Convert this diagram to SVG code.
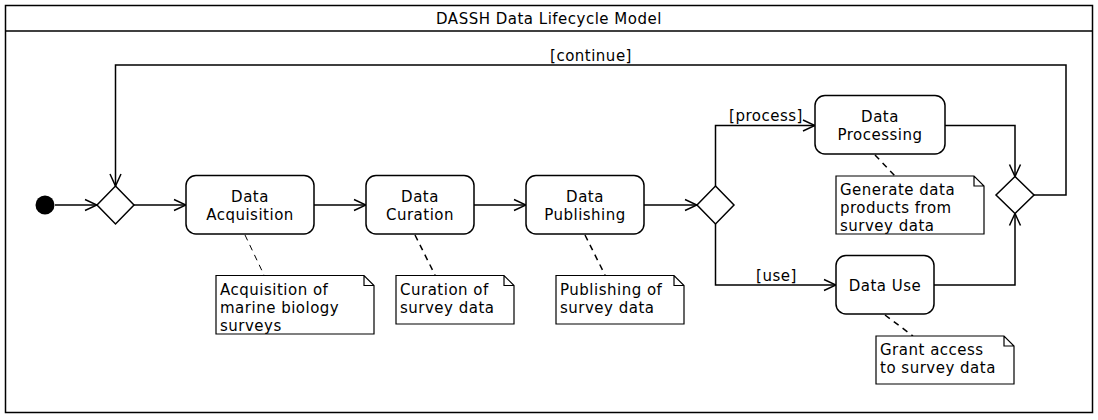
<svg xmlns="http://www.w3.org/2000/svg" width="1098" height="420" viewBox="0 0 1098 420">
<defs>
<style>
text{font-family:"DejaVu Sans","Noto Sans",sans-serif;font-size:15px;fill:#000;letter-spacing:0.5px}
.act{fill:#fff;stroke:#000;stroke-width:1.5}
.dia{fill:#fff;stroke:#000;stroke-width:1.5}
.note{fill:#fff;stroke:#000;stroke-width:1.2}
.edge{fill:none;stroke:#000;stroke-width:1.5}
.dash{fill:none;stroke:#000;stroke-width:1.5;stroke-dasharray:6,5}
.c{text-anchor:middle}
</style>
<marker id="arr" viewBox="0 0 14 14" refX="13" refY="7" markerWidth="14" markerHeight="14" markerUnits="userSpaceOnUse" orient="auto">
<path d="M1,1.5 L13,7 L1,12.5" fill="none" stroke="#000" stroke-width="1.5"/>
</marker>
</defs>
<rect width="1098" height="420" fill="#fff"/>
<g id="frame">
<rect x="5.5" y="5.5" width="1087" height="407" fill="none" stroke="#000" stroke-width="1.5"/>
<line x1="5.5" y1="31" x2="1092.5" y2="31" stroke="#000" stroke-width="1.5"/>
<text x="549" y="24" class="c">DASSH Data Lifecycle Model</text>
</g>
<g id="connectors">
<line class="edge" x1="55" y1="205" x2="97" y2="205" marker-end="url(#arr)"/>
<line class="edge" x1="134" y1="205" x2="186" y2="205" marker-end="url(#arr)"/>
<line class="edge" x1="314" y1="205" x2="366" y2="205" marker-end="url(#arr)"/>
<line class="edge" x1="474" y1="205" x2="526" y2="205" marker-end="url(#arr)"/>
<line class="edge" x1="644" y1="205" x2="697" y2="205" marker-end="url(#arr)"/>
<path class="edge" d="M715.5,186 V125.5 H815" marker-end="url(#arr)"/>
<path class="edge" d="M715.5,224 V285 H836" marker-end="url(#arr)"/>
<path class="edge" d="M945,125.5 H1015 V176.5" marker-end="url(#arr)"/>
<path class="edge" d="M934,285 H1015 V213.5" marker-end="url(#arr)"/>
<path class="edge" d="M1034,195 H1066 V65 H115.5 V186" marker-end="url(#arr)"/>
<text x="591" y="61" class="c">[continue]</text>
<text x="766" y="121" class="c">[process]</text>
<text x="776.5" y="281" class="c">[use]</text>
<line class="dash" x1="245" y1="235" x2="264" y2="275" style="stroke-width:1"/>
<line class="dash" x1="415" y1="235" x2="435" y2="275"/>
<line class="dash" x1="585" y1="235" x2="605" y2="275"/>
<line class="dash" x1="875" y1="155" x2="895" y2="176"/>
<line class="dash" x1="885" y1="315" x2="913" y2="336"/>
</g>
<g id="start"><circle cx="45" cy="205" r="9.5" fill="#000"/></g>
<g id="merge1"><path class="dia" d="M115.5,186 L134,205 L115.5,224 L97,205 Z"/></g>
<g id="acquisition">
<rect class="act" x="186" y="175.5" width="128" height="58.5" rx="10"/>
<text x="250" y="202" class="c">Data</text>
<text x="250" y="220" class="c">Acquisition</text>
</g>
<g id="curation">
<rect class="act" x="366" y="175.5" width="108" height="58.5" rx="10"/>
<text x="420" y="202" class="c">Data</text>
<text x="420" y="220" class="c">Curation</text>
</g>
<g id="publishing">
<rect class="act" x="526" y="175.5" width="118" height="58.5" rx="10"/>
<text x="585" y="202" class="c">Data</text>
<text x="585" y="220" class="c">Publishing</text>
</g>
<g id="branch"><path class="dia" d="M715.5,186 L734,205 L715.5,224 L697,205 Z"/></g>
<g id="processing">
<rect class="act" x="815" y="95.5" width="130" height="58.5" rx="10"/>
<text x="880" y="122" class="c">Data</text>
<text x="880" y="140" class="c">Processing</text>
</g>
<g id="use">
<rect class="act" x="836" y="255.5" width="98" height="58.5" rx="10"/>
<text x="885" y="291" class="c">Data Use</text>
</g>
<g id="merge2"><path class="dia" d="M1015,176.5 L1034,195 L1015,213.5 L996,195 Z"/></g>
<g id="note-acq">
<path class="note" d="M216,275.5 H364 L374,285.5 V334 H216 Z M364,275.5 V285.5 H374"/>
<text x="220" y="295">Acquisition of</text>
<text x="220" y="313">marine biology</text>
<text x="220" y="331">surveys</text>
</g>
<g id="note-cur">
<path class="note" d="M396,275.5 H504 L514,285.5 V324 H396 Z M504,275.5 V285.5 H514"/>
<text x="400" y="295">Curation of</text>
<text x="400" y="313">survey data</text>
</g>
<g id="note-pub">
<path class="note" d="M556,275.5 H674 L684,285.5 V324 H556 Z M674,275.5 V285.5 H684"/>
<text x="560" y="295">Publishing of</text>
<text x="560" y="313">survey data</text>
</g>
<g id="note-proc">
<path class="note" d="M836,176 H974 L984,186 V234 H836 Z M974,176 V186 H984"/>
<text x="840" y="195">Generate data</text>
<text x="840" y="213">products from</text>
<text x="840" y="231">survey data</text>
</g>
<g id="note-use">
<path class="note" d="M876,336 H1004 L1014,346 V384 H876 Z M1004,336 V346 H1014"/>
<text x="880" y="355">Grant access</text>
<text x="880" y="373">to survey data</text>
</g>
</svg>
